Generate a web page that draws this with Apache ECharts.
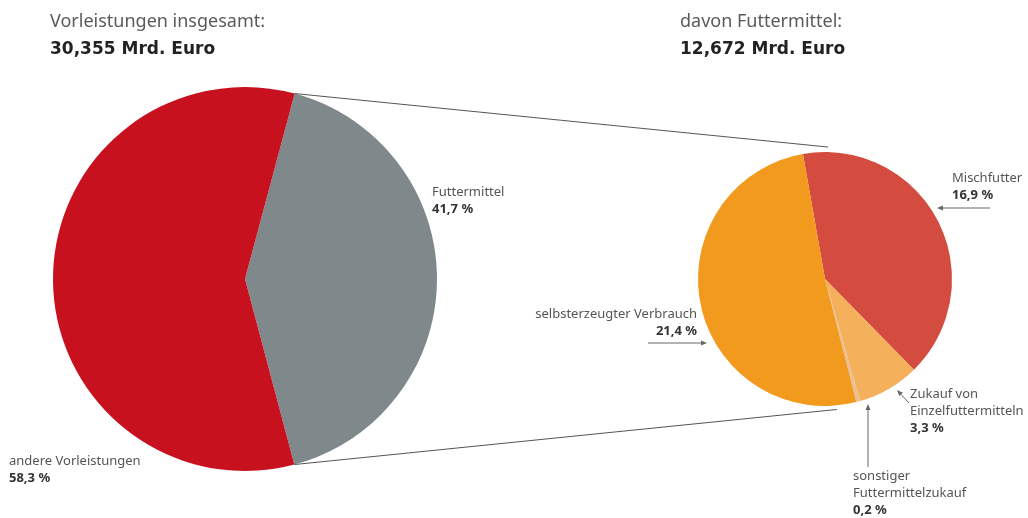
<!DOCTYPE html>
<html>
<head>
<meta charset="utf-8">
<script src="https://cdn.jsdelivr.net/npm/echarts@6/dist/echarts.min.js"></script>
<style>
  html, body { margin: 0; padding: 0; background: #fff; }
  #chart { width: 1028px; height: 518px; }
</style>
</head>
<body>
<div id="chart"></div>
<script>
// Vorleistungen insgesamt (Anteile in %)
var leftNames = ['Futtermittel', 'andere Vorleistungen'];
var leftValues = [41.7, 58.3];
// davon Futtermittel (Anteile an Vorleistungen in %)
var rightNames = ['Mischfutter', 'Zukauf von\nEinzelfuttermitteln', 'sonstiger\nFuttermittelzukauf', 'selbsterzeugter Verbrauch'];
var rightValues = [16.9, 3.3, 0.2, 21.4];

var leftColors = ['#7f888a', '#c8111f'];
var rightColors = ['#d44c3f', '#f5b05c', '#ebbd94', '#f29a1d'];

var leftCenter = [245, 279], leftR = 192, leftStart = 75;
var rightCenter = [825, 279], rightR = 127, rightStart = 100;

// label positions: [x, y, align]
var leftLabelPos = [[432, 184, 'left'], [9, 453, 'left']];
var rightLabelPos = [[952, 170, 'left'], [910, 386, 'left'], [853, 468, 'left'], [697, 306, 'right']];
// arrows: [fromX, fromY, toX, toY]
var rightArrows = [[990, 208, 937, 208], [909, 403, 897, 390], [868, 467, 868, 404], [648, 343, 707, 343]];

function pct(v) { return v.toFixed(1).replace('.', ',') + ' %'; }

var labelRich = {
    n: { fontSize: 13, color: '#555', lineHeight: 17, fontFamily: 'Noto Sans' },
    v: { fontSize: 13, color: '#333', fontWeight: 'bold', lineHeight: 17, fontFamily: 'Noto Sans' }
};

function layoutFrom(list) {
    return function (params) {
        var p = list[params.dataIndex];
        return { x: p[0], y: p[1], align: p[2], verticalAlign: 'top', hideOverlap: false, moveOverlap: null };
    };
}

var graphics = [];
function addText(x, y, txt, bold) {
    graphics.push({
        type: 'text', left: x, top: y,
        style: {
            text: txt, fill: bold ? '#222' : '#5a5a5a',
            font: bold ? 'bold 17px "DejaVu Sans"' : '18px "Noto Sans"'
        }
    });
}
addText(50, 13, 'Vorleistungen insgesamt:', false);
addText(50, 41, '30,355 Mrd. Euro', true);
addText(680, 13, 'davon Futtermittel:', false);
addText(680, 41, '12,672 Mrd. Euro', true);

function polar(c, r, deg) {
    var a = deg * Math.PI / 180;
    return [c[0] + r * Math.cos(a), c[1] - r * Math.sin(a)];
}
// connector lines from the Futtermittel slice edges to the second pie
var leftSum = leftValues[0] + leftValues[1];
var pTopL = polar(leftCenter, leftR, leftStart);
var pBotL = polar(leftCenter, leftR, leftStart - 360 * leftValues[0] / leftSum);
var pTopR = polar(rightCenter, rightR + 5, 88.7);
var pBotR = polar(rightCenter, rightR + 4, -84.8);
[[pTopL, pTopR], [pBotL, pBotR]].forEach(function (seg) {
    graphics.push({
        type: 'line', z: 10,
        shape: { x1: seg[0][0], y1: seg[0][1], x2: seg[1][0], y2: seg[1][1] },
        style: { stroke: '#555', lineWidth: 1 }
    });
});

rightArrows.forEach(function (a) {
    var dx = a[2] - a[0], dy = a[3] - a[1];
    var len = Math.sqrt(dx * dx + dy * dy);
    var ux = dx / len, uy = dy / len;
    var bx = a[2] - ux * 6, by = a[3] - uy * 6;
    graphics.push({
        type: 'line', z: 10,
        shape: { x1: a[0], y1: a[1], x2: bx, y2: by },
        style: { stroke: '#666', lineWidth: 1 }
    });
    graphics.push({
        type: 'polygon', z: 10,
        shape: { points: [[a[2], a[3]], [bx - uy * 2.5, by + ux * 2.5], [bx + uy * 2.5, by - ux * 2.5]] },
        style: { fill: '#666' }
    });
});

function makeLabel() {
    return {
        show: true,
        position: 'outside',
        overflow: 'none',
        formatter: function (p) { return '{n|' + p.name + '}\n{v|' + pct(p.value) + '}'; },
        rich: labelRich
    };
}

var chart = echarts.init(document.getElementById('chart'), null, { renderer: 'canvas' });
chart.setOption({
    backgroundColor: '#fff',
    animation: false,
    graphic: graphics,
    series: [{
        type: 'pie',
        center: leftCenter,
        radius: leftR,
        startAngle: leftStart,
        clockwise: true,
        avoidLabelOverlap: false,
        data: leftNames.map(function (n, i) {
            return { name: n, value: leftValues[i], itemStyle: { color: leftColors[i] } };
        }),
        label: makeLabel(),
        labelLine: { show: false },
        labelLayout: layoutFrom(leftLabelPos),
        emphasis: { disabled: true }
    }, {
        type: 'pie',
        center: rightCenter,
        radius: rightR,
        startAngle: rightStart,
        clockwise: true,
        avoidLabelOverlap: false,
        data: rightNames.map(function (n, i) {
            return { name: n, value: rightValues[i], itemStyle: { color: rightColors[i] } };
        }),
        label: makeLabel(),
        labelLine: { show: false },
        labelLayout: layoutFrom(rightLabelPos),
        emphasis: { disabled: true }
    }]
});
</script>
</body>
</html>
